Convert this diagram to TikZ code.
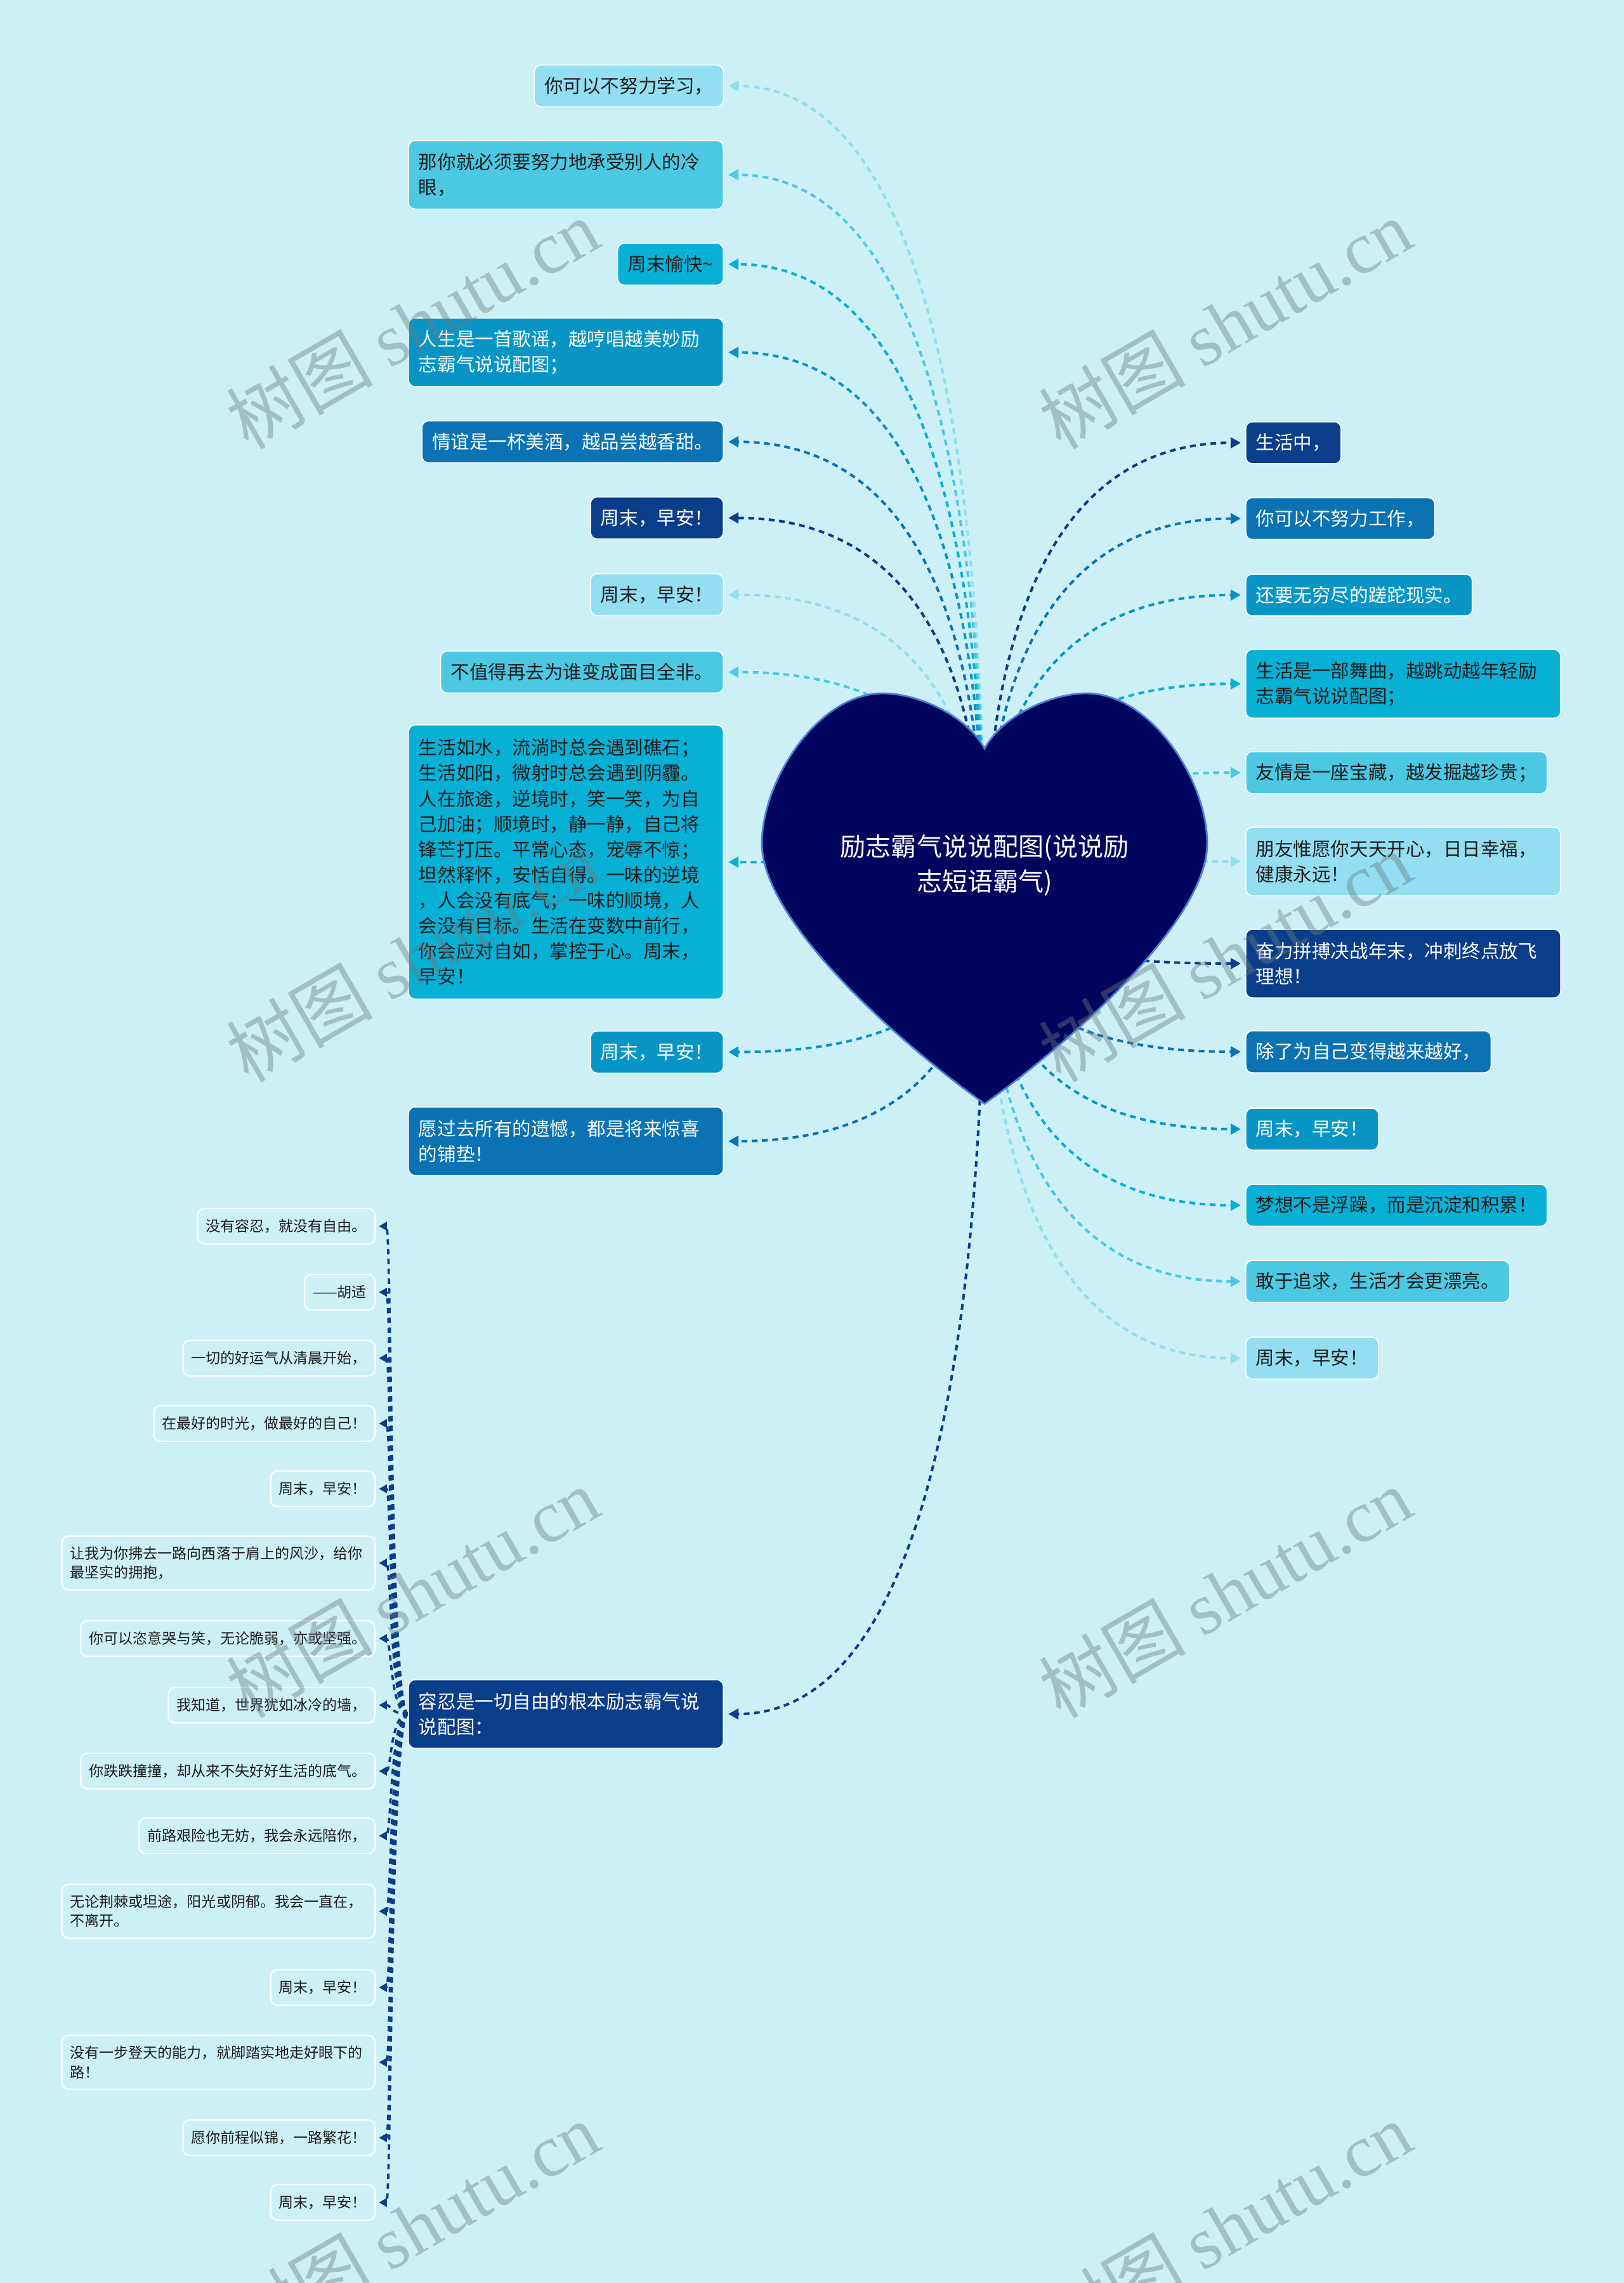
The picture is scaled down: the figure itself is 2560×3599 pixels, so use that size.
\documentclass[tikz,border=0pt]{standalone}
\usepackage{fontspec}
\setmainfont{Noto Sans CJK SC}
\newfontfamily\wmlatin{Liberation Serif}
\usetikzlibrary{arrows.meta,calc}
\definecolor{bgc}{HTML}{CDF0F7}
\definecolor{ca}{HTML}{0A3D8A}
\definecolor{cb}{HTML}{0B72B3}
\definecolor{cc}{HTML}{0895C6}
\definecolor{cd}{HTML}{07B0D5}
\definecolor{ce}{HTML}{4CC8E3}
\definecolor{cf}{HTML}{93DEF0}
\definecolor{txtd}{HTML}{1C1C1C}
\definecolor{heartc}{HTML}{02055E}
\definecolor{heartedge}{HTML}{4A7FD8}
\definecolor{wmc}{HTML}{687C80}
\pgfdeclarelayer{connlayer}
\pgfdeclarelayer{heartlayer}
\pgfsetlayers{connlayer,heartlayer,main}
\tikzset{
  box/.style={rounded corners=3pt, draw=white, line width=0.45pt, inner xsep=0.16cm, inner ysep=0.05cm,
    minimum height=0.66cm, font=\fontsize{8.4pt}{11.4pt}\selectfont, align=left},
  two/.style={text width=4.64cm, minimum height=1.08cm},
  big/.style={text width=4.64cm, minimum height=4.32cm},
  kA/.style={box, fill=ca, text=white},
  kB/.style={box, fill=cb, text=white},
  kC/.style={box, fill=cc, text=white},
  kD/.style={box, fill=cd, text=txtd},
  kE/.style={box, fill=ce, text=txtd},
  kF/.style={box, fill=cf, text=txtd},
  lft/.style={anchor=east},
  rgt/.style={anchor=west},
  sbox/.style={rounded corners=3pt, draw=white, line width=0.6pt, inner xsep=0.13cm, inner ysep=0.04cm,
    minimum height=0.56cm, font=\fontsize{6.55pt}{8.6pt}\selectfont, text=txtd, align=left, anchor=east},
  stwo/.style={text width=4.67cm, minimum height=0.85cm},
  conn/.style={line width=1.15pt, dash pattern=on 2.6pt off 2pt, -{Triangle[length=4.6pt,width=4.8pt]}, shorten >=2pt},
  sconn/.style={line width=1.05pt, draw=ca, dash pattern=on 2.4pt off 2pt, -{Triangle[length=3.6pt,width=3.8pt]}, shorten >=1.5pt},
  rootnode/.style={text=white, align=center, font=\fontsize{11.4pt}{15.4pt}\selectfont},
  wm/.style={rotate=30, text=wmc, text opacity=0.42, font=\fontsize{33pt}{33pt}\selectfont}
}
\newcommand\heartconn[2]{%
  \draw[conn, draw=#2] (hc) .. controls ($(hc)!0.6667!(hc|-#1)$) and ($(#1)!0.6667!(hc|-#1)$) .. (#1);}
\newcommand\subconn[1]{%
  \draw[sconn] (L12.west) .. controls +(-28,0) and +(25,0) .. (#1.east);}
\begin{document}
\begin{tikzpicture}[x=0.01cm, y=-0.01cm]
\useasboundingbox (0,0) rectangle (2560,3599);
\coordinate (hc) at (1552,1410);
% ---------- root text
\node[rootnode] (root) at (1552,1364) {励志霸气说说配图(说说励\\志短语霸气)};
% ---------- left nodes
\node[kF,lft] (L1) at (1141,135.5) {你可以不努力学习，};
\node[kE,lft,two] (L2) at (1141,275.5) {那你就必须要努力地承受别人的冷\\眼，};
\node[kD,lft] (L3) at (1141,416.5) {周末愉快\char"7E};
\node[kC,lft,two] (L4) at (1141,555.5) {人生是一首歌谣，越哼唱越美妙励\\志霸气说说配图；};
\node[kB,lft] (L5) at (1141,696.5) {情谊是一杯美酒，越品尝越香甜。};
\node[kA,lft] (L6) at (1141,816.5) {周末，早安！};
\node[kF,lft] (L7) at (1141,937.5) {周末，早安！};
\node[kE,lft] (L8) at (1141,1059.5) {不值得再去为谁变成面目全非。};
\node[kD,lft,big] (L9) at (1141,1359) {生活如水，流淌时总会遇到礁石；\\生活如阳，微射时总会遇到阴霾。\\人在旅途，逆境时，笑一笑，为自\\己加油；顺境时，静一静，自己将\\锋芒打压。平常心态，宠辱不惊；\\坦然释怀，安恬自得。一味的逆境\\，人会没有底气；一味的顺境，人\\会没有目标。生活在变数中前行，\\你会应对自如，掌控于心。周末，\\早安！};
\node[kC,lft] (L10) at (1141,1658.5) {周末，早安！};
\node[kB,lft,two] (L11) at (1141,1799) {愿过去所有的遗憾，都是将来惊喜\\的铺垫！};
\node[kA,lft,two] (L12) at (1141,2702) {容忍是一切自由的根本励志霸气说\\说配图：};
% ---------- right nodes
\node[kA,rgt] (R1) at (1963,698) {生活中，};
\node[kB,rgt] (R2) at (1963,817.5) {你可以不努力工作，};
\node[kC,rgt] (R3) at (1963,938) {还要无穷尽的蹉跎现实。};
\node[kD,rgt,two] (R4) at (1963,1078) {生活是一部舞曲，越跳动越年轻励\\志霸气说说配图；};
\node[kE,rgt] (R5) at (1963,1218) {友情是一座宝藏，越发掘越珍贵；};
\node[kF,rgt,two] (R6) at (1963,1358) {朋友惟愿你天天开心，日日幸福，\\健康永远！};
\node[kA,rgt,two] (R7) at (1963,1519) {奋力拼搏决战年末，冲刺终点放飞\\理想！};
\node[kB,rgt] (R8) at (1963,1658) {除了为自己变得越来越好，};
\node[kC,rgt] (R9) at (1963,1780) {周末，早安！};
\node[kD,rgt] (R10) at (1963,1900) {梦想不是浮躁，而是沉淀和积累！};
\node[kE,rgt] (R11) at (1963,2020) {敢于追求，生活才会更漂亮。};
\node[kF,rgt] (R12) at (1963,2141) {周末，早安！};
% ---------- small nodes
\node[sbox] (S1) at (592,1933) {没有容忍，就没有自由。};
\node[sbox] (S2) at (592,2037) {——胡适};
\node[sbox] (S3) at (592,2141) {一切的好运气从清晨开始，};
\node[sbox] (S4) at (592,2244) {在最好的时光，做最好的自己！};
\node[sbox] (S5) at (592,2347) {周末，早安！};
\node[sbox,stwo] (S6) at (592,2464) {让我为你拂去一路向西落于肩上的风沙，给你\\最坚实的拥抱，};
\node[sbox] (S7) at (592,2583) {你可以恣意哭与笑，无论脆弱，亦或坚强。};
\node[sbox] (S8) at (592,2688) {我知道，世界犹如冰冷的墙，};
\node[sbox] (S9) at (592,2792) {你跌跌撞撞，却从来不失好好生活的底气。};
\node[sbox] (S10) at (592,2894) {前路艰险也无妨，我会永远陪你，};
\node[sbox,stwo] (S11) at (592,3013) {无论荆棘或坦途，阳光或阴郁。我会一直在，\\不离开。};
\node[sbox] (S12) at (592,3133) {周末，早安！};
\node[sbox,stwo] (S13) at (592,3251) {没有一步登天的能力，就脚踏实地走好眼下的\\路！};
\node[sbox] (S14) at (592,3370) {愿你前程似锦，一路繁花！};
\node[sbox] (S15) at (592,3472) {周末，早安！};
% ---------- background and connectors
\begin{pgfonlayer}{connlayer}
  \fill[bgc] (0,0) rectangle (2560,3599);
  \heartconn{L1.east}{cf}
  \heartconn{L2.east}{ce}
  \heartconn{L3.east}{cd}
  \heartconn{L4.east}{cc}
  \heartconn{L5.east}{cb}
  \heartconn{L6.east}{ca}
  \heartconn{L7.east}{cf}
  \heartconn{L8.east}{ce}
  \heartconn{L9.east}{cd}
  \heartconn{L10.east}{cc}
  \heartconn{L11.east}{cb}
  \heartconn{L12.east}{ca}
  \heartconn{R1.west}{ca}
  \heartconn{R2.west}{cb}
  \heartconn{R3.west}{cc}
  \heartconn{R4.west}{cd}
  \heartconn{R5.west}{ce}
  \heartconn{R6.west}{cf}
  \heartconn{R7.west}{ca}
  \heartconn{R8.west}{cb}
  \heartconn{R9.west}{cc}
  \heartconn{R10.west}{cd}
  \heartconn{R11.west}{ce}
  \heartconn{R12.west}{cf}
  \foreach \s in {S1,S2,S3,S4,S5,S6,S7,S8,S9,S10,S11,S12,S13,S14,S15} {\subconn{\s}}
\end{pgfonlayer}
% ---------- heart
\begin{pgfonlayer}{heartlayer}
  \draw[fill=heartc, draw=heartedge, line width=0.8pt]
    (1552,1740) .. controls (1412,1640) and (1201,1450) .. (1201,1330)
    .. controls (1201,1230) and (1290,1093) .. (1391,1093)
    .. controls (1450,1093) and (1525,1130) .. (1552,1180)
    .. controls (1579,1130) and (1654,1093) .. (1713,1093)
    .. controls (1814,1093) and (1903,1230) .. (1903,1330)
    .. controls (1903,1450) and (1692,1640) .. (1552,1740) -- cycle;
\end{pgfonlayer}
% ---------- watermarks
\foreach \wx/\wy in {650/510,1931/510,650/1508,1931/1508,650/2510,1931/2510,650/3510,1931/3510} {
  \node[wm] at (\wx,\wy) {树图 {\wmlatin shutu.cn}};
}
\end{tikzpicture}
\end{document}
